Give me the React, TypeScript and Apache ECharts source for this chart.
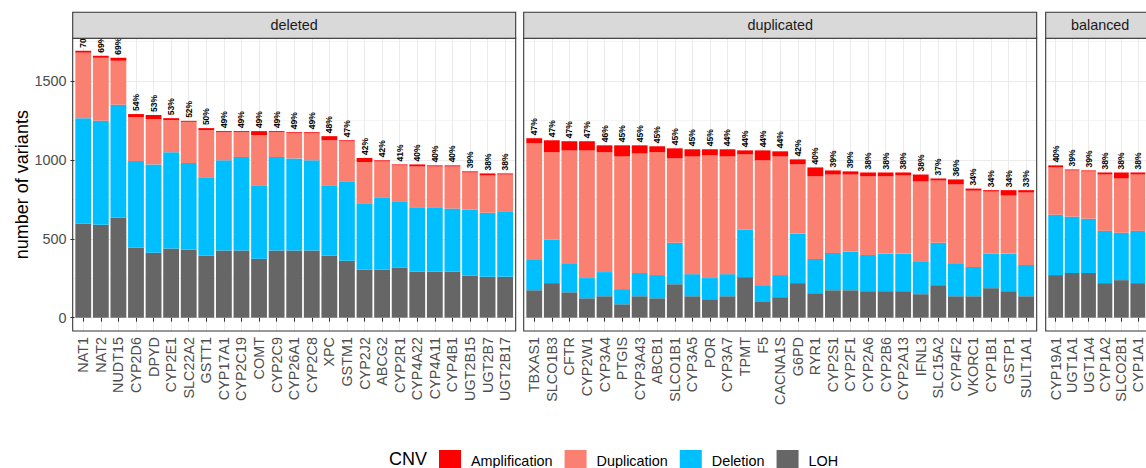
import React, { useEffect, useRef } from "react";
import * as echarts from "echarts";

const FONT = '"Liberation Sans", Arial, Helvetica, sans-serif';

// ---------- data ----------
const deletedGenes = ["NAT1", "NAT2", "NUDT15", "CYP2D6", "DPYD", "CYP2E1", "SLC22A2", "GSTT1", "CYP17A1", "CYP2C19", "COMT", "CYP2C9", "CYP26A1", "CYP2C8", "XPC", "GSTM1", "CYP2J2", "ABCG2", "CYP2R1", "CYP4A22", "CYP4A11", "CYP4B1", "UGT2B15", "UGT2B7", "UGT2B17"];
const deletedLOH = [597, 589, 635, 444, 412, 438, 431, 393, 425, 425, 374, 425, 425, 425, 393, 361, 304, 304, 317, 291, 291, 291, 266, 259, 259];
const deletedDeletion = [667, 658, 714, 548, 559, 610, 549, 497, 572, 593, 465, 593, 584, 572, 446, 504, 421, 459, 420, 408, 408, 400, 418, 406, 415];
const deletedDuplication = [415, 400, 279, 279, 287, 204, 261, 298, 178, 157, 317, 157, 160, 172, 285, 253, 261, 227, 228, 259, 259, 267, 236, 236, 233];
const deletedAmplification = [12, 13, 19, 19, 26, 12, 6, 13, 7, 7, 26, 7, 6, 6, 26, 6, 26, 7, 6, 13, 7, 7, 7, 13, 7];
const deletedPct = [70, 69, 69, 54, 53, 53, 52, 50, 49, 49, 49, 49, 49, 49, 48, 47, 42, 42, 41, 40, 40, 40, 39, 38, 38];

const duplicatedGenes = ["TBXAS1", "SLCO1B3", "CFTR", "CYP2W1", "CYP3A4", "PTGIS", "CYP3A43", "ABCB1", "SLCO1B1", "CYP3A5", "POR", "CYP3A7", "TPMT", "F5", "CACNA1S", "G6PD", "RYR1", "CYP2S1", "CYP2F1", "CYP2A6", "CYP2B6", "CYP2A13", "IFNL3", "SLC15A2", "CYP4F2", "VKORC1", "CYP1B1", "GSTP1", "SULT1A1"];
const duplicatedLOH = [174, 219, 161, 123, 136, 85, 136, 123, 212, 136, 117, 136, 257, 104, 130, 219, 155, 174, 174, 168, 168, 168, 149, 206, 136, 136, 187, 168, 136];
const duplicatedDeletion = [192, 274, 179, 128, 153, 96, 147, 147, 262, 140, 134, 140, 300, 102, 140, 314, 217, 236, 245, 229, 238, 238, 204, 268, 204, 185, 219, 238, 198];
const duplicatedDuplication = [739, 555, 720, 809, 759, 841, 758, 778, 535, 746, 777, 746, 478, 791, 752, 438, 523, 497, 488, 498, 489, 495, 510, 395, 504, 484, 393, 368, 459];
const duplicatedAmplification = [32, 76, 58, 58, 44, 70, 51, 38, 64, 45, 39, 45, 25, 63, 32, 32, 57, 26, 20, 25, 25, 19, 44, 13, 32, 13, 9, 34, 15];
const duplicatedPct = [47, 47, 47, 47, 46, 45, 45, 45, 45, 45, 45, 44, 44, 44, 44, 42, 40, 39, 39, 38, 38, 38, 38, 37, 36, 34, 34, 34, 33];

const balancedGenes = ["CYP19A1", "UGT1A1", "UGT1A4", "CYP1A2", "SLCO2B1", "CYP1A1"];
const balancedLOH = [270, 283, 283, 219, 238, 219];
const balancedDeletion = [382, 357, 344, 331, 300, 331];
const balancedDuplication = [300, 293, 300, 357, 344, 357];
const balancedAmplification = [13, 6, 6, 13, 38, 13];
const balancedPct = [40, 39, 39, 38, 38, 38];

const facetNames = ["deleted", "duplicated", "balanced"];
const cnvTypes = ["Amplification", "Duplication", "Deletion", "LOH"];
const yTicks = [0, 500, 1000, 1500];

// ---------- layout / style ----------
const COLORS: Record<string, string> = {
  Amplification: "#FF0000",
  Duplication: "#FA8072",
  Deletion: "#00BFFF",
  LOH: "#666666",
};
const PANEL_TOP = 38.3;
const PANEL_H = 292.7;
const STRIP_TOP = 12.3;
const Y_MIN = -84.3;
const Y_MAX = 1770;
const panelEdges = [
  [72.7, 515.7],
  [523.7, 1036.7],
  [1045.7, 1154.6],
];

const panelData = [
  { genes: deletedGenes, LOH: deletedLOH, Deletion: deletedDeletion, Duplication: deletedDuplication, Amplification: deletedAmplification, pct: deletedPct },
  { genes: duplicatedGenes, LOH: duplicatedLOH, Deletion: duplicatedDeletion, Duplication: duplicatedDuplication, Amplification: duplicatedAmplification, pct: duplicatedPct },
  { genes: balancedGenes, LOH: balancedLOH, Deletion: balancedDeletion, Duplication: balancedDuplication, Amplification: balancedAmplification, pct: balancedPct },
];

function buildOption() {
  const grid: any[] = [];
  const xAxis: any[] = [];
  const yAxis: any[] = [];
  const series: any[] = [];
  const graphic: any[] = [];

  panelData.forEach((p, i) => {
    const [L, R] = panelEdges[i];
    const n = p.genes.length;
    const pitch = (R - L) / (n + 0.2);
    const bg = i * 2;
    const dg = i * 2 + 1;

    // background grid: horizontal grid lines over the full panel
    grid.push({ left: L, top: PANEL_TOP, width: R - L, height: PANEL_H, containLabel: false });
    xAxis.push({ type: "value", gridIndex: bg, show: false, min: 0, max: 1 });
    yAxis.push({
      type: "value",
      gridIndex: bg,
      min: Y_MIN,
      max: Y_MAX,
      minInterval: 500,
      maxInterval: 500,
      axisLine: { show: false },
      axisTick: { show: false },
      axisLabel: { show: false },
      splitLine: { show: true, showMinLine: false, showMaxLine: false, lineStyle: { color: "#ebebeb", width: 1.07 } },
      minorTick: { show: false, splitNumber: 2 },
      minorSplitLine: { show: true, lineStyle: { color: "#ebebeb", width: 0.53 } },
    });

    // data grid
    grid.push({ left: L + 0.1 * pitch, top: PANEL_TOP, width: n * pitch, height: PANEL_H, containLabel: false });
    xAxis.push({
      type: "category",
      gridIndex: dg,
      data: p.genes,
      boundaryGap: true,
      axisLine: { show: false },
      axisTick: { show: true, alignWithLabel: true, length: 4, lineStyle: { color: "#333333", width: 1.07 } },
      axisLabel: { rotate: 90, interval: 0, margin: 6, fontSize: 14.4, color: "#4d4d4d", fontFamily: FONT },
      splitLine: { show: true, alignWithLabel: true, lineStyle: { color: "#ebebeb", width: 1.07 } },
    });
    yAxis.push({
      type: "value",
      gridIndex: dg,
      min: Y_MIN,
      max: Y_MAX,
      minInterval: 500,
      maxInterval: 500,
      axisLine: { show: false },
      splitLine: { show: false },
      axisTick: i === 0 ? { show: true, length: 4, customValues: yTicks, lineStyle: { color: "#333333", width: 1.07 } } : { show: false },
      axisLabel: i === 0
        ? { show: true, customValues: yTicks, margin: 8, fontSize: 14.4, color: "#4d4d4d", fontFamily: FONT, formatter: (v: number) => String(v) }
        : { show: false },
      name: i === 0 ? "number of variants" : "",
      nameLocation: "middle",
      nameRotate: 90,
      nameGap: 40,
      nameTextStyle: { fontSize: 18, color: "#000000", fontFamily: FONT },
    });

    ["LOH", "Deletion", "Duplication", "Amplification"].forEach((t) => {
      const s: any = {
        type: "bar",
        name: t,
        xAxisIndex: dg,
        yAxisIndex: dg,
        stack: "panel" + i,
        barCategoryGap: "10%",
        data: (p as any)[t],
        itemStyle: { color: COLORS[t] },
        emphasis: { disabled: true },
      };
      if (t === "Amplification") {
        s.label = {
          show: true,
          position: "top",
          rotate: 90,
          align: "left",
          verticalAlign: "middle",
          distance: 3,
          fontSize: 8.5,
          fontWeight: "bold",
          color: "#000000",
          fontFamily: FONT,
          formatter: (q: any) => p.pct[q.dataIndex] + "%",
        };
      }
      series.push(s);
    });

    // panel border
    graphic.push({
      type: "rect",
      z: 100,
      shape: { x: L, y: PANEL_TOP, width: R - L, height: PANEL_H },
      style: { fill: "none", stroke: "#333333", lineWidth: 1.07 },
      silent: true,
    });
    // strip
    graphic.push({
      type: "rect",
      z: 100,
      shape: { x: L, y: STRIP_TOP, width: R - L, height: PANEL_TOP - STRIP_TOP },
      style: { fill: "#d9d9d9", stroke: "#333333", lineWidth: 1.07 },
      silent: true,
    });
    graphic.push({
      type: "text",
      z: 101,
      x: (L + R) / 2,
      y: (STRIP_TOP + PANEL_TOP) / 2,
      style: { text: facetNames[i], fill: "#1a1a1a", fontSize: 14.4, fontFamily: FONT, align: "center", verticalAlign: "middle" },
      silent: true,
    });
  });

  // legend title
  graphic.push({
    type: "text",
    z: 101,
    x: 389,
    y: 458.5,
    style: { text: "CNV", fill: "#000000", fontSize: 18, fontFamily: FONT, align: "left", verticalAlign: "middle" },
    silent: true,
  });

  return {
    animation: false,
    textStyle: { fontFamily: FONT },
    grid,
    xAxis,
    yAxis,
    series,
    graphic,
    legend: {
      data: cnvTypes,
      left: 439,
      top: 450,
      padding: 0,
      orient: "horizontal",
      itemWidth: 22,
      itemHeight: 22,
      itemGap: 12,
      icon: "rect",
      selectedMode: false,
      textStyle: { fontSize: 14.4, color: "#000000", fontFamily: FONT, padding: [0, 0, 2, 5] },
    },
  };
}

export default function App() {
  const ref = useRef<HTMLDivElement>(null);
  useEffect(() => {
    if (!ref.current) return;
    const chart = echarts.init(ref.current, null, { renderer: "svg" });
    chart.setOption(buildOption() as any);
    return () => chart.dispose();
  }, []);
  return (
    <div
      ref={ref}
      style={{ position: "fixed", left: 0, top: 0, width: 1146, height: 468, background: "#ffffff" }}
    />
  );
}
